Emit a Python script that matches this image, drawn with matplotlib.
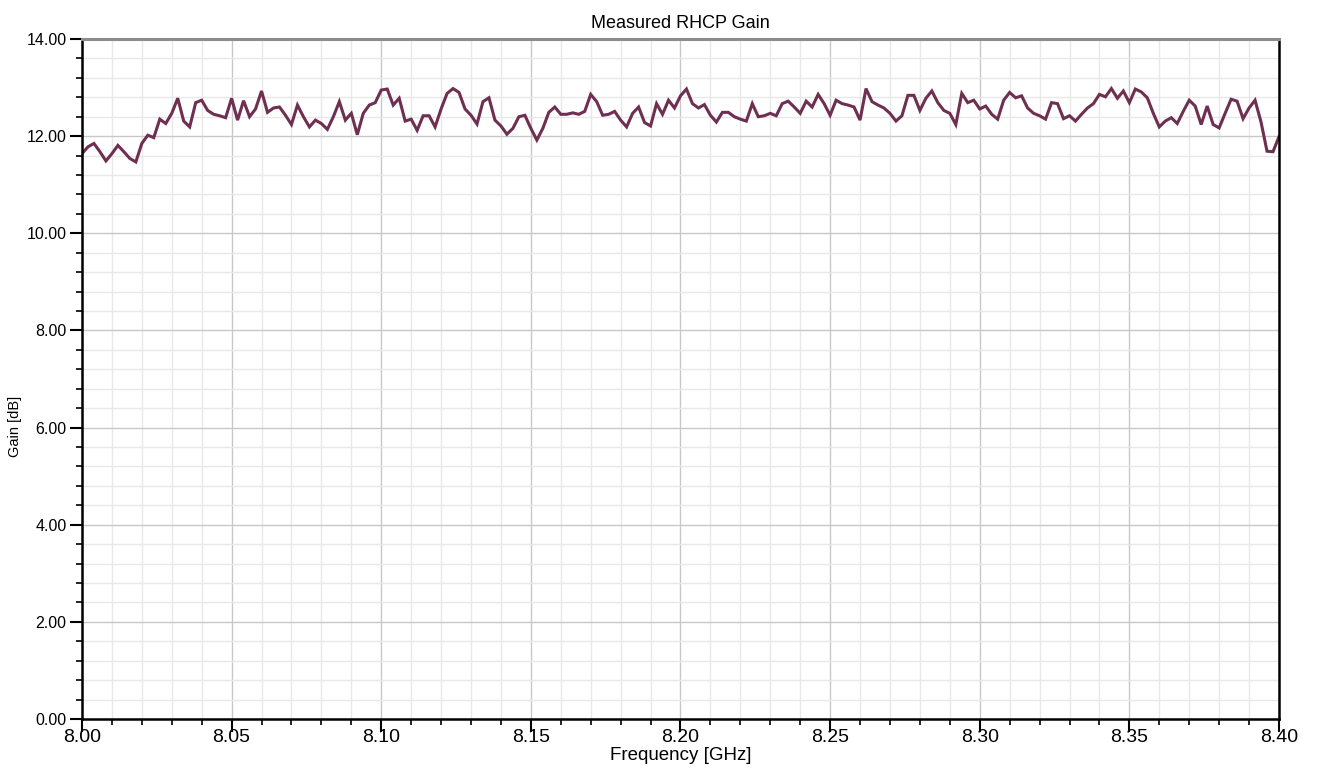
import numpy as np
import matplotlib
matplotlib.use("Agg")
import matplotlib.pyplot as plt
from matplotlib.ticker import MultipleLocator, FormatStrFormatter

plt.rcParams['font.family'] = ['Liberation Sans', 'DejaVu Sans']

# measured gain, 201 points from 8.00 to 8.40 GHz (2 MHz step)
freq_start = 8.00
freq_step = 0.002
gain = [
    11.64, 11.78, 11.85, 11.68, 11.49, 11.64, 11.81, 11.68, 11.54, 11.47,
    11.85, 12.02, 11.97, 12.35, 12.26, 12.47, 12.78, 12.31, 12.19, 12.69,
    12.74, 12.53, 12.45, 12.42, 12.38, 12.78, 12.33, 12.73, 12.40, 12.56,
    12.93, 12.49, 12.58, 12.60, 12.43, 12.24, 12.64, 12.40, 12.19, 12.33,
    12.26, 12.14, 12.40, 12.71, 12.33, 12.47, 12.03, 12.47, 12.64, 12.69,
    12.95, 12.97, 12.64, 12.78, 12.31, 12.35, 12.12, 12.42, 12.42, 12.19,
    12.56, 12.88, 12.98, 12.90, 12.56, 12.43, 12.25, 12.71, 12.79, 12.33,
    12.21, 12.04, 12.16, 12.40, 12.43, 12.16, 11.92, 12.16, 12.49, 12.60,
    12.45, 12.45, 12.48, 12.45, 12.51, 12.86, 12.71, 12.43, 12.45, 12.51,
    12.33, 12.19, 12.47, 12.60, 12.28, 12.21, 12.67, 12.45, 12.74, 12.58,
    12.83, 12.97, 12.67, 12.58, 12.65, 12.43, 12.29, 12.49, 12.49, 12.40,
    12.35, 12.31, 12.67, 12.40, 12.42, 12.47, 12.42, 12.67, 12.72, 12.60,
    12.47, 12.72, 12.60, 12.86, 12.67, 12.43, 12.74, 12.67, 12.64, 12.60,
    12.33, 12.98, 12.71, 12.64, 12.58, 12.47, 12.31, 12.42, 12.84, 12.84,
    12.53, 12.78, 12.93, 12.69, 12.53, 12.47, 12.24, 12.88, 12.69, 12.74,
    12.56, 12.62, 12.45, 12.35, 12.74, 12.90, 12.79, 12.83, 12.58, 12.47,
    12.42, 12.35, 12.69, 12.67, 12.36, 12.42, 12.31, 12.45, 12.58, 12.67,
    12.86, 12.81, 12.98, 12.78, 12.93, 12.69, 12.97, 12.91, 12.79, 12.47,
    12.19, 12.31, 12.38, 12.26, 12.51, 12.74, 12.62, 12.24, 12.62, 12.24,
    12.17, 12.47, 12.76, 12.72, 12.36, 12.58, 12.74, 12.29, 11.69, 11.68,
    11.99,
]
freq = freq_start + freq_step * np.arange(len(gain))

fig = plt.figure(figsize=(13.18, 7.71), dpi=100)
ax = fig.add_axes([0.0622, 0.0674, 0.9082, 0.882])

ax.plot(freq, gain, color='#6e2f50', lw=2.2, solid_joinstyle='miter')

ax.set_xlim(8.00, 8.40)
ax.set_ylim(0, 14)
ax.xaxis.set_major_locator(MultipleLocator(0.05))
ax.xaxis.set_minor_locator(MultipleLocator(0.01))
ax.yaxis.set_major_locator(MultipleLocator(2.0))
ax.yaxis.set_minor_locator(MultipleLocator(0.4))
ax.xaxis.set_major_formatter(FormatStrFormatter('%.2f'))
ax.yaxis.set_major_formatter(FormatStrFormatter('%.2f'))

ax.grid(which='major', color='#c8c8c8', lw=1.0)
ax.grid(which='minor', color='#e8e8e8', lw=1.0)
ax.set_axisbelow(True)

ax.tick_params(axis='x', which='major', labelsize=14, length=9, width=1.5, pad=-2)
ax.tick_params(axis='y', which='major', labelsize=11.5, length=9, width=1.5, pad=2)
ax.tick_params(which='minor', length=4, width=1.2)

for side in ['left', 'bottom', 'right']:
    ax.spines[side].set_color('black')
    ax.spines[side].set_linewidth(1.8)
ax.spines['top'].set_color('#8c8c8c')
ax.spines['top'].set_linewidth(2.2)

ax.set_title('Measured RHCP Gain', fontsize=13, pad=8)
ax.set_xlabel('Frequency [GHz]', fontsize=13.5, labelpad=1)
ax.set_ylabel('Gain [dB]', fontsize=10.5)
ax.yaxis.set_label_coords(-0.05, 0.43)

fig.savefig('out.png', dpi=100)
